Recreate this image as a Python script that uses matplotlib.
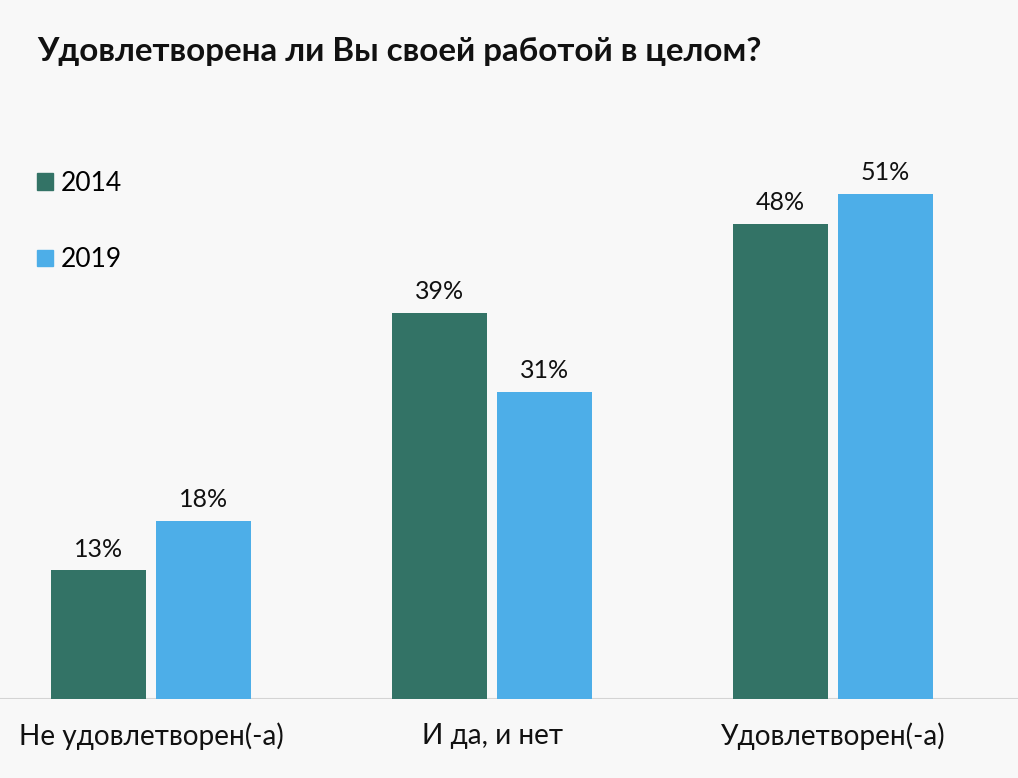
import numpy as np
import matplotlib
matplotlib.use('Agg')
import matplotlib.pyplot as plt
from matplotlib.patches import Patch

# Datos de la encuesta
categories = ['Не удовлетворен(-а)', 'И да, и нет', 'Удовлетворен(-а)']
years = ['2014', '2019']
values_2014 = [13, 39, 48]
values_2019 = [18, 31, 51]
title = 'Удовлетворена ли Вы своей работой в целом?'

col_2014 = '#337366'
col_2019 = '#4daee8'
bg = '#f8f8f8'

plt.rcParams['font.family'] = ['Lato', 'DejaVu Sans']

fig = plt.figure(figsize=(10.18, 7.78), dpi=100, facecolor=bg)
# ejes: de y=699px (base) hasta y=100px, a todo lo ancho
ax = fig.add_axes([0, 1 - 699 / 778, 1, 599 / 778])
ax.set_facecolor(bg)

x = np.arange(len(categories))
w = 0.2786
off = 0.154
b1 = ax.bar(x - off, values_2014, w, color=col_2014, label=years[0])
b2 = ax.bar(x + off, values_2019, w, color=col_2019, label=years[1])

for bars, vals in [(b1, values_2014), (b2, values_2019)]:
    for bar, v in zip(bars, vals):
        ax.annotate(f'{v}%', (bar.get_x() + bar.get_width() / 2, v),
                    xytext=(0, 7), textcoords='offset points',
                    ha='center', va='bottom', fontsize=18, color='#111111')

ax.set_xlim(-151 / 341, (1018 - 151) / 341)
ax.set_ylim(0, 599 / 9.9)
ax.axhline(0, color='#d4d4d4', lw=1.5, zorder=0)

for s in ax.spines.values():
    s.set_visible(False)
ax.set_yticks([])
ax.set_xticks(x)
ax.set_xticklabels(categories, fontsize=20.2, color='#111111')
ax.tick_params(axis='x', length=0, pad=17)

fig.text(37 / 1018, 1 - 61 / 778, title, fontsize=23.9, fontweight='bold',
         color='#111111', ha='left', va='baseline')

handles = [Patch(color=col_2014), Patch(color=col_2019)]
leg = fig.legend(handles, years, loc='upper left', bbox_to_anchor=(13 / 1018, 1 - 147 / 778),
                 frameon=False, fontsize=19, handlelength=0.6, handleheight=0.6,
                 handletextpad=0.3, labelspacing=1.95)

fig.savefig('out.png', dpi=100, facecolor=bg)
